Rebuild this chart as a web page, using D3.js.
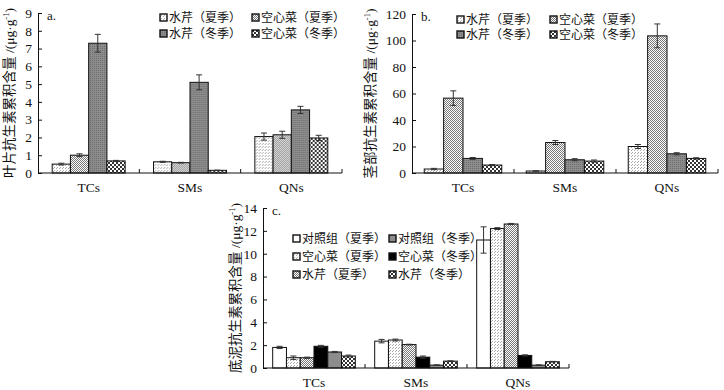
<!DOCTYPE html>
<html>
<head>
<meta charset="utf-8">
<script src="https://cdn.jsdelivr.net/npm/d3@7"></script>
<style>
  body { margin: 0; background: #fff; }
  svg text { font-family: "Liberation Serif", "Noto Sans CJK SC", serif; fill: #111; }
</style>
</head>
<body>
<svg id="chart" width="724" height="390"></svg>
<script>
// categories shared by all panels
const categories = ["TCs", "SMs", "QNs"];

// panel a: leaves
const leafSeries = ["水芹（夏季）", "空心菜（夏季）", "水芹（冬季）", "空心菜（冬季）"];
const leafValues = [[0.5, 1.0, 7.3, 0.68], [0.63, 0.58, 5.1, 0.15], [2.05, 2.15, 3.55, 1.97]];
const leafErrors = [[0.05, 0.08, 0.5, 0.03], [0.03, 0.02, 0.42, 0.01], [0.2, 0.2, 0.2, 0.15]];
const leafTicks = [0, 1, 2, 3, 4, 5, 6, 7, 8, 9];

// panel b: stems
const stemSeries = ["水芹（夏季）", "空心菜（夏季）", "水芹（冬季）", "空心菜（冬季）"];
const stemValues = [[3, 56.5, 11, 6], [1.5, 23, 10, 9], [20, 103.5, 14.5, 11]];
const stemErrors = [[0.5, 5.5, 0.7, 0.4], [0.2, 1.5, 0.8, 0.8], [1.5, 9, 0.8, 0.5]];
const stemTicks = [0, 20, 40, 60, 80, 100, 120];

// panel c: sediment
const mudSeries = ["对照组（夏季）", "空心菜（夏季）", "水芹（夏季）", "空心菜（冬季）", "对照组（冬季）", "水芹（冬季）"];
const mudValues = [[1.8, 0.9, 0.9, 1.9, 1.4, 1.05], [2.35, 2.45, 2.05, 0.95, 0.25, 0.6], [11.2, 12.2, 12.6, 1.1, 0.25, 0.55]];
const mudErrors = [[0.1, 0.15, 0.05, 0.08, 0.05, 0.08], [0.15, 0.08, 0.03, 0.1, 0.03, 0.03], [1.15, 0.08, 0.05, 0.05, 0.03, 0.03]];
const mudTicks = [0, 2, 4, 6, 8, 10, 12, 14];

const svg = d3.select("#chart");
const defs = svg.append("defs");

// fill patterns (hatch textures of the printed figure)
function makePattern(id, size, bg, dots, dotColor) {
    const p = defs.append("pattern")
        .attr("id", id)
        .attr("patternUnits", "userSpaceOnUse")
        .attr("width", size).attr("height", size);
    p.append("rect").attr("width", size).attr("height", size).attr("fill", bg);
    dots.forEach(d => p.append("rect")
        .attr("x", d[0]).attr("y", d[1]).attr("width", 1).attr("height", 1)
        .attr("fill", dotColor));
}
makePattern("pLight", 3, "#fff", [[0, 0], [1, 2]], "#aaa");
makePattern("pDots", 2, "#fff", [[0, 0], [1, 1]], "#777");
makePattern("pGray", 2, "#8c8c8c", [[0, 0]], "#6e6e6e");
makePattern("pCheck", 4, "#fff", [[0, 0], [1, 0], [0, 1], [2, 2], [3, 2], [2, 3], [1, 1], [3, 3]], "#333");

const plantFills = ["url(#pLight)", "url(#pDots)", "url(#pGray)", "url(#pCheck)"];
const mudFills = ["#fff", "url(#pLight)", "url(#pDots)", "#000", "#8c8c8c", "url(#pCheck)"];

function drawPanel(cfg) {
    const g = svg.append("g");

    const x0 = d3.scaleBand().domain(categories).range([cfg.left, cfg.right]);
    const pad = x0.bandwidth() * cfg.pad;
    const x1 = d3.scaleBand().domain(cfg.series).range([pad, x0.bandwidth() - pad]);
    const y = d3.scaleLinear().domain([0, cfg.ticks[cfg.ticks.length - 1]]).range([cfg.bottom, cfg.top]);

    // bars
    const groups = g.selectAll("g.grp")
        .data(cfg.values)
        .join("g")
        .attr("class", "grp")
        .attr("transform", (d, i) => `translate(${x0(categories[i])},0)`);

    groups.selectAll("rect")
        .data(d => d.map((v, j) => ({ v, j })))
        .join("rect")
        .attr("x", d => x1(cfg.series[d.j]))
        .attr("y", d => y(d.v))
        .attr("width", x1.bandwidth())
        .attr("height", d => y(0) - y(d.v))
        .attr("fill", d => cfg.fills[d.j])
        .attr("stroke", "#111")
        .attr("stroke-width", 1);

    // error bars
    const errs = groups.selectAll("g.err")
        .data((d, i) => d.map((v, j) => ({ v, j, e: cfg.errors[i][j] })))
        .join("g")
        .attr("class", "err")
        .attr("stroke", "#333")
        .attr("stroke-width", 1);
    errs.append("line")
        .attr("x1", d => x1(cfg.series[d.j]) + x1.bandwidth() / 2)
        .attr("x2", d => x1(cfg.series[d.j]) + x1.bandwidth() / 2)
        .attr("y1", d => y(d.v - d.e))
        .attr("y2", d => y(d.v + d.e));
    [-1, 1].forEach(s => errs.append("line")
        .attr("x1", d => x1(cfg.series[d.j]) + x1.bandwidth() / 2 - 3)
        .attr("x2", d => x1(cfg.series[d.j]) + x1.bandwidth() / 2 + 3)
        .attr("y1", d => y(d.v + s * d.e))
        .attr("y2", d => y(d.v + s * d.e)));

    // y axis, inward ticks
    const yAxis = g.append("g")
        .attr("transform", `translate(${cfg.left},0)`)
        .call(d3.axisLeft(y).tickValues(cfg.ticks).tickSizeInner(-4).tickSizeOuter(0).tickPadding(6));
    yAxis.selectAll("text").style("font-size", "13.5px").attr("fill", "#111");
    yAxis.selectAll("line, path").attr("stroke", "#111");

    // x axis line with separators between groups
    g.append("line")
        .attr("x1", cfg.left).attr("x2", cfg.right)
        .attr("y1", cfg.bottom).attr("y2", cfg.bottom)
        .attr("stroke", "#111");
    g.selectAll("line.sep")
        .data(categories.slice(1).map(c => x0(c)).concat([cfg.right]))
        .join("line")
        .attr("class", "sep")
        .attr("x1", d => d).attr("x2", d => d)
        .attr("y1", cfg.bottom).attr("y2", cfg.bottom - 4)
        .attr("stroke", "#111");
    g.selectAll("text.cat")
        .data(categories)
        .join("text")
        .attr("class", "cat")
        .attr("x", d => x0(d) + x0.bandwidth() / 2)
        .attr("y", cfg.bottom + 19)
        .attr("text-anchor", "middle")
        .style("font-size", "13.5px")
        .text(d => d);

    // y title
    const title = g.append("text")
        .attr("transform", `translate(${cfg.titleX},${(cfg.top + cfg.bottom) / 2}) rotate(-90)`)
        .attr("text-anchor", "middle")
        .style("font-size", "13.5px");
    title.append("tspan").text(cfg.title + " /(μg·g");
    title.append("tspan").attr("dy", -5).style("font-size", "8.5px").text("-1");
    title.append("tspan").attr("dy", 5).text(")");

    // panel letter
    g.append("text")
        .attr("x", cfg.left + 9).attr("y", cfg.top + 7)
        .style("font-size", "13px")
        .text(cfg.letter);

    // legend
    const leg = g.selectAll("g.leg")
        .data(cfg.series)
        .join("g")
        .attr("class", "leg")
        .attr("transform", (d, i) => `translate(${cfg.legX[cfg.legPos[i][0]]},${cfg.legY[cfg.legPos[i][1]]})`);
    leg.append("rect")
        .attr("x", 0).attr("y", -8)
        .attr("width", 7).attr("height", 7)
        .attr("fill", (d, i) => cfg.fills[i])
        .attr("stroke", "#111")
        .attr("stroke-width", 1.4);
    leg.append("text")
        .attr("x", 9).attr("y", 0)
        .style("font-size", "12px")
        .text(d => d);
}

drawPanel({
    series: leafSeries, values: leafValues, errors: leafErrors, ticks: leafTicks, fills: plantFills,
    left: 38, right: 342, top: 13, bottom: 173, pad: 0.14,
    title: "叶片抗生素累积含量", titleX: 14, letter: "a.",
    legX: [160, 252], legY: [22, 38], legPos: [[0, 0], [1, 0], [0, 1], [1, 1]]
});

drawPanel({
    series: stemSeries, values: stemValues, errors: stemErrors, ticks: stemTicks, fills: plantFills,
    left: 412, right: 718, top: 14, bottom: 173, pad: 0.12,
    title: "茎部抗生素累积含量", titleX: 375, letter: "b.",
    legX: [457, 550], legY: [24, 39], legPos: [[0, 0], [1, 0], [0, 1], [1, 1]]
});

drawPanel({
    series: mudSeries, values: mudValues, errors: mudErrors, ticks: mudTicks, fills: mudFills,
    left: 263, right: 569, top: 208, bottom: 368, pad: 0.095,
    title: "底泥抗生素累积含量", titleX: 240, letter: "c.",
    legX: [293, 389], legY: [243, 261, 279], legPos: [[0, 0], [0, 1], [0, 2], [1, 1], [1, 0], [1, 2]]
});
</script>
</body>
</html>
